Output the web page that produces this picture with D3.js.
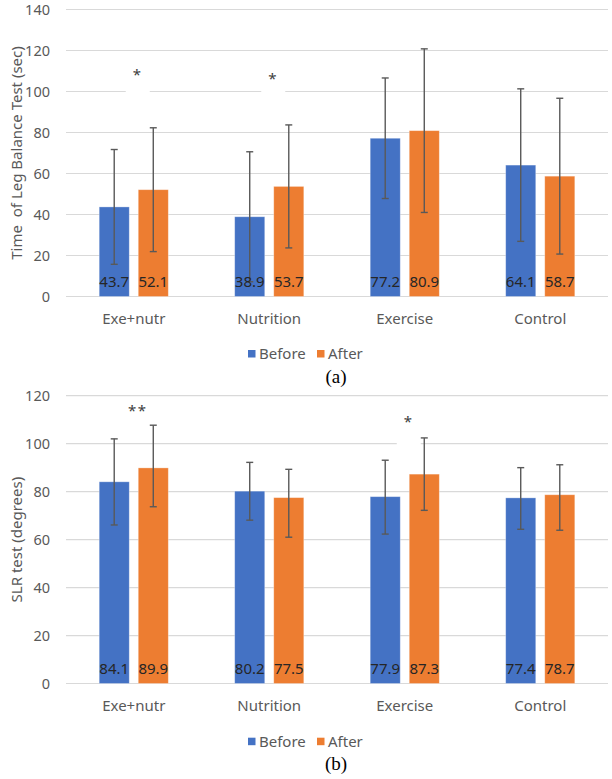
<!DOCTYPE html>
<html>
<head>
<meta charset="utf-8">
<script src="https://cdn.jsdelivr.net/npm/d3@7"></script>
<style>
  body { margin: 0; background: #fff; }
  text { font-family: "Noto Sans", sans-serif; }
</style>
</head>
<body>
<div id="chart"></div>
<script>
var width = 612, height = 779;

var categories = ["Exe+nutr", "Nutrition", "Exercise", "Control"];
var seriesNames = ["Before", "After"];
var colors = ["#4472C4", "#ED7D31"];

// panel (a) - leg balance
var balanceTicks = [0, 20, 40, 60, 80, 100, 120, 140];
var balanceBefore = [43.7, 38.9, 77.2, 64.1];
var balanceAfter = [52.1, 53.7, 80.9, 58.7];
var balanceBeforeErr = [28.0, 31.7, 29.4, 37.2];
var balanceAfterErr = [30.2, 30.0, 39.9, 38.0];
var balanceStars = ["*", "*", "", ""];
var balanceStarY = [110, 108, null, null];

// panel (b) - SLR
var slrTicks = [0, 20, 40, 60, 80, 100, 120];
var slrBefore = [84.1, 80.2, 77.9, 77.4];
var slrAfter = [89.9, 77.5, 87.3, 78.7];
var slrBeforeErrUp = [17.9, 12.0, 15.2, 12.6];
var slrBeforeErrDown = [18.0, 12.1, 15.6, 13.1];
var slrAfterErrUp = [17.8, 11.8, 15.1, 12.5];
var slrAfterErrDown = [16.2, 16.5, 15.1, 14.8];
var slrStars = ["**", "", "*", ""];
var slrStarY = [115.4, null, 110.6, null];

var svg = d3.select('#chart').append('svg')
    .attr('width', width)
    .attr('height', height);

function drawPanel(p) {
    var g = svg.append("g");

    var x = d3.scaleBand().domain(categories).range([66, 608]);
    var xs = d3.scaleBand().domain(seriesNames).range([0, x.bandwidth()])
        .paddingInner(0.23).paddingOuter(0.85);
    var y = d3.scaleLinear().domain([0, d3.max(p.ticks)]).range([p.bottom, p.top]);

    // gridlines
    g.selectAll(".grid").data(p.ticks).enter().append("line")
        .attr("x1", 66).attr("x2", 608)
        .attr("y1", function(d) { return y(d); })
        .attr("y2", function(d) { return y(d); })
        .attr("stroke", "#d9d9d9")
        .attr("stroke-width", 1.2);

    // tick labels
    g.selectAll(".tick").data(p.ticks).enter().append("text")
        .attr("x", 50)
        .attr("y", function(d) { return y(d); })
        .attr("dy", "0.35em")
        .attr("text-anchor", "end")
        .attr("font-size", 14.5)
        .attr("fill", "#595959")
        .text(function(d) { return d; });

    // star boxes (white text boxes hide the gridline)
    categories.forEach(function(c, i) {
        if (!p.stars[i]) return;
        var cx = x(c) + x.bandwidth() / 2 + 4;
        g.append("rect")
            .attr("x", cx - 12).attr("y", y(p.starY[i]) - 8)
            .attr("width", 24).attr("height", 36)
            .attr("fill", "#fff");
        g.append("text")
            .attr("x", cx).attr("y", y(p.starY[i]))
            .attr("dy", "0.6em")
            .attr("text-anchor", "middle")
            .attr("font-size", 15)
            .attr("letter-spacing", 1.5)
            .attr("fill", "#404040")
            .text(p.stars[i]);
    });

    var series = [
        {name: "Before", values: p.before, up: p.beforeUp, down: p.beforeDown},
        {name: "After", values: p.after, up: p.afterUp, down: p.afterDown}
    ];

    series.forEach(function(s, si) {
        var sg = g.append("g");
        sg.selectAll("rect").data(s.values).enter().append("rect")
            .attr("x", function(d, i) { return x(categories[i]) + xs(s.name); })
            .attr("y", function(d) { return y(d); })
            .attr("width", xs.bandwidth())
            .attr("height", function(d) { return y(0) - y(d); })
            .attr("fill", colors[si])
            .attr("stroke", "#fff")
            .attr("stroke-opacity", 0.4)
            .attr("stroke-width", 0.8);

        // error bars
        s.values.forEach(function(v, i) {
            var cx = x(categories[i]) + xs(s.name) + xs.bandwidth() / 2;
            var hi = y(v + s.up[i]), lo = y(v - s.down[i]);
            sg.append("line").attr("x1", cx).attr("x2", cx)
                .attr("y1", hi).attr("y2", lo)
                .attr("stroke", "#595959").attr("stroke-width", 1.4);
            [hi, lo].forEach(function(yy) {
                sg.append("line").attr("x1", cx - 3.5).attr("x2", cx + 3.5)
                    .attr("y1", yy).attr("y2", yy)
                    .attr("stroke", "#595959").attr("stroke-width", 1.4);
            });
        });

        // value labels
        sg.selectAll(".val").data(s.values).enter().append("text")
            .attr("x", function(d, i) { return x(categories[i]) + xs(s.name) + xs.bandwidth() / 2; })
            .attr("y", y(0) - 15)
            .attr("dy", "0.36em")
            .attr("text-anchor", "middle")
            .attr("font-size", 15)
            .attr("fill", "#262626")
            .text(function(d) { return d.toFixed(1); });
    });

    // category labels
    g.selectAll(".cat").data(categories).enter().append("text")
        .attr("x", function(d) { return x(d) + x.bandwidth() / 2; })
        .attr("y", y(0) + 22)
        .attr("dy", "0.35em")
        .attr("text-anchor", "middle")
        .attr("font-size", 15)
        .attr("fill", "#595959")
        .text(function(d) { return d; });

    // y title
    g.append("text")
        .attr("transform", "translate(17," + ((p.top + p.bottom) / 2) + ") rotate(-90)")
        .attr("dy", "0.35em")
        .attr("text-anchor", "middle")
        .attr("font-size", 15)
        .attr("fill", "#595959")
        .style("white-space", "pre")
        .text(p.title);

    // legend
    var lx = [248, 317];
    seriesNames.forEach(function(n, i) {
        g.append("rect")
            .attr("x", lx[i]).attr("y", p.legendY - 4)
            .attr("width", 7.5).attr("height", 7.5)
            .attr("fill", colors[i]);
        g.append("text")
            .attr("x", lx[i] + 11).attr("y", p.legendY)
            .attr("dy", "0.35em")
            .attr("font-size", 15)
            .attr("fill", "#595959")
            .text(n);
    });

    // caption
    g.append("text")
        .attr("x", 336).attr("y", p.captionY)
        .attr("dy", "0.35em")
        .attr("text-anchor", "middle")
        .attr("font-size", 19)
        .style("font-family", "'Liberation Serif', serif")
        .attr("fill", "#000")
        .text(p.caption);
}

drawPanel({
    ticks: balanceTicks, top: 9.5, bottom: 296.5,
    before: balanceBefore, after: balanceAfter,
    beforeUp: balanceBeforeErr, beforeDown: balanceBeforeErr,
    afterUp: balanceAfterErr, afterDown: balanceAfterErr,
    stars: balanceStars, starY: balanceStarY,
    title: "Time  of Leg Balance Test (sec)",
    legendY: 354, captionY: 376, caption: "(a)"
});

drawPanel({
    ticks: slrTicks, top: 395.7, bottom: 683.5,
    before: slrBefore, after: slrAfter,
    beforeUp: slrBeforeErrUp, beforeDown: slrBeforeErrDown,
    afterUp: slrAfterErrUp, afterDown: slrAfterErrDown,
    stars: slrStars, starY: slrStarY,
    title: "SLR test (degrees)",
    legendY: 741.7, captionY: 763, caption: "(b)"
});
</script>
</body>
</html>
